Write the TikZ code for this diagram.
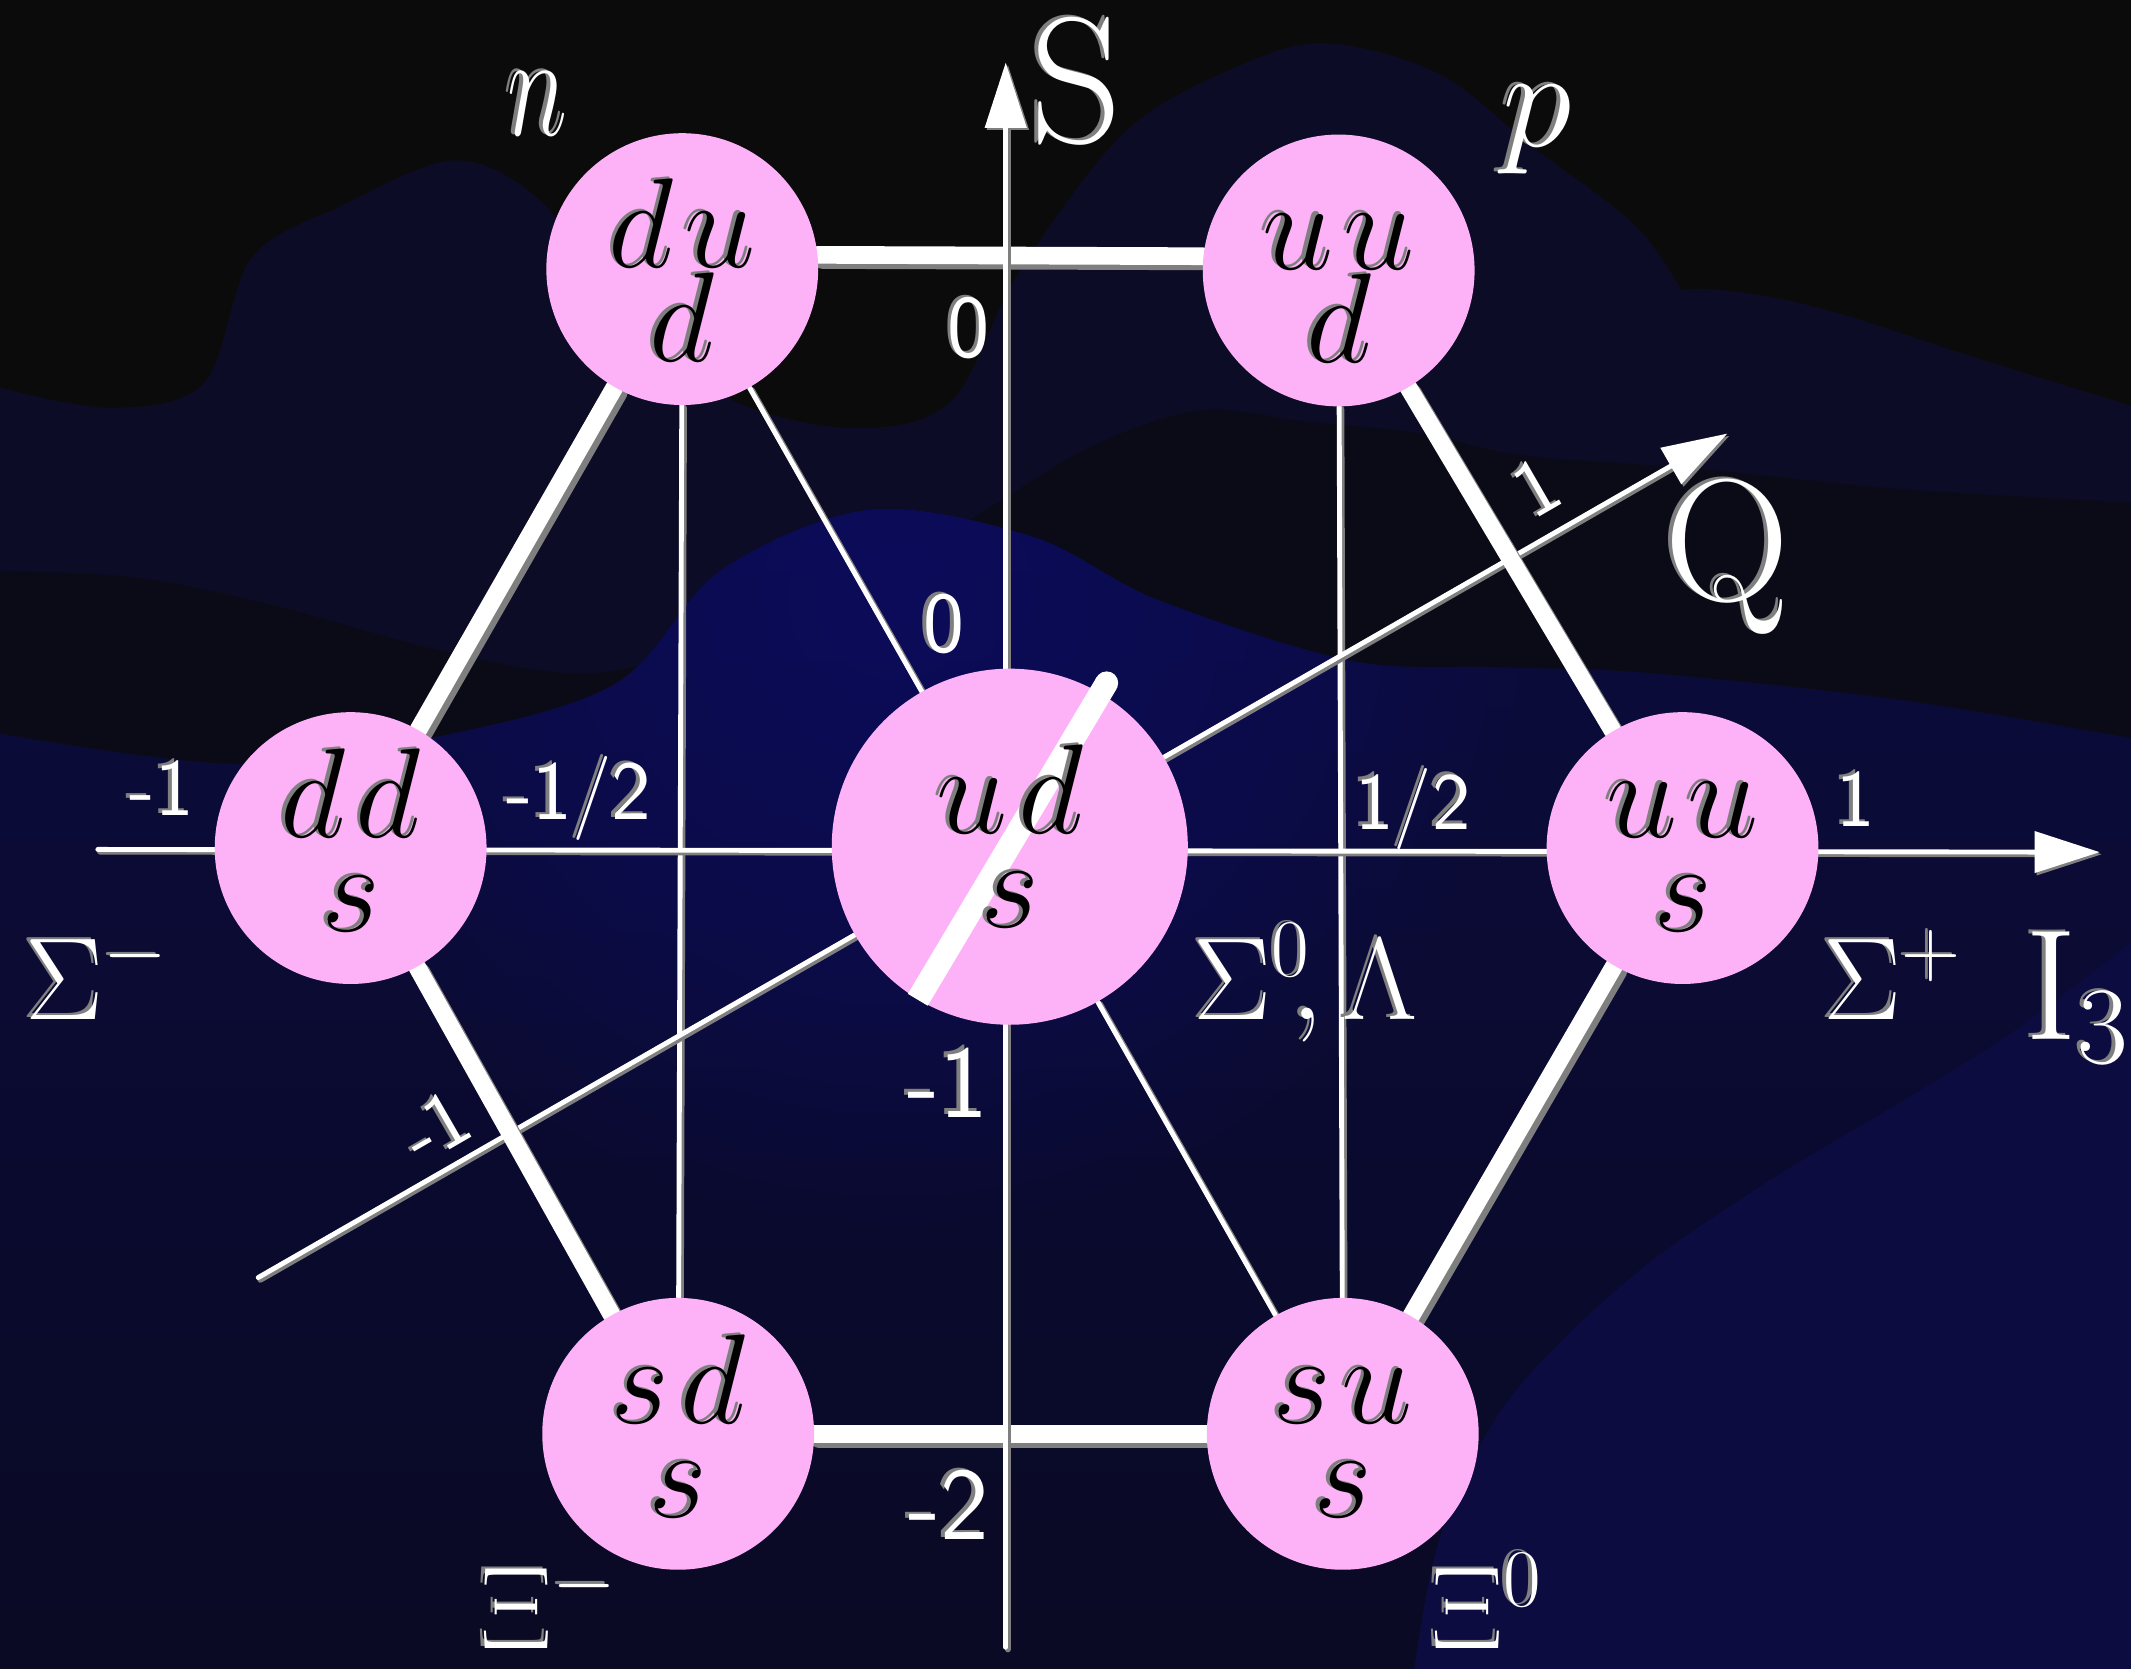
\RequirePackage{fix-cm}
\documentclass[tikz,border=0pt]{standalone}
\usepackage{graphicx}
\usetikzlibrary{arrows.meta,calc}
\definecolor{sky}{HTML}{0B0B0B}
\definecolor{mtA}{HTML}{0C0C26}
\definecolor{band}{HTML}{0B0B17}
\definecolor{mtCtop}{HTML}{0B0B3E}
\definecolor{mtCbot}{HTML}{0A0A24}
\definecolor{blobc}{HTML}{0C0C80}
\definecolor{rlight}{HTML}{0C0C40}
\definecolor{pinkc}{HTML}{FDB2F8}
\definecolor{shd}{HTML}{7F7F7F}
\pgfdeclarelayer{bg}
\pgfdeclarelayer{lines}
\pgfsetlayers{bg,lines,main}
\newcommand\shad[1]{\leavevmode\rlap{\kern-1.4pt\raisebox{0.8pt}{\color{shd}#1}}#1}
% quark content: second line d
\newcommand\qkd[2]{\shad{$\vphantom{d}#1$}\\\shad{$\vphantom{d}#2$}}
% quark content: second line s
\newcommand\qks[2]{\shad{$\vphantom{d}#1$}\\\shad{$\vphantom{d}#2$}\rule[-6.5pt]{0pt}{6.5pt}}
\def\mthree{plot[smooth, tension=0.55] coordinates {(-5,539) (171,562) (322,542) (453,503) (530,420) (640,375) (760,395) (851,441) (993,486) (1104,491) (1211,495) (1398,515) (1573,544)} -- (1573,1233) -- (-5,1233) -- cycle}
\begin{document}
\begin{tikzpicture}[x=0.5pt,y=-0.5pt,
  baryon/.style={circle, fill=pinkc, minimum size=100pt, inner sep=0pt, text=black, align=center, font=\fontsize{47}{33}\selectfont},
  sbaryon/.style={baryon, font=\fontsize{47}{27}\selectfont},
  quarktext/.style={inner sep=0pt, text=black, align=center, font=\fontsize{47}{27}\selectfont},
  thickw/.style={line width=6.5pt, white, line cap=round},
  thickg/.style={line width=6.5pt, shd, line cap=round, transform canvas={shift={(1.6pt,-1.9pt)}}},
  thinw/.style={line width=1.8pt, white, line cap=round},
  thing/.style={line width=2.2pt, shd, line cap=round, transform canvas={shift={(0.8pt,-0.8pt)}}},
  axisarrow/.style={-{Triangle[length=24pt,width=15pt]}},
  lab/.style={text=white, inner sep=0pt, anchor=base west},
  numlab/.style={lab, font=\sffamily\fontsize{30}{36}\selectfont},
  greeklab/.style={lab, font=\fontsize{43}{50}\selectfont}]
\useasboundingbox (0,0) rectangle (1568,1228);
% ---------- background ----------
\begin{pgfonlayer}{bg}
\fill[sky] (0,0) rectangle (1568,1228);
\fill[mtA] plot[smooth, tension=0.55] coordinates {(-5,284) (80,300) (150,282) (185,190) (250,152) (335,118) (400,150) (460,235) (540,295) (630,315) (700,295) (750,200) (830,95) (920,45) (980,32) (1060,55) (1130,110) (1207,170) (1260,250) (1320,330)} -- (1320,1233) -- (-5,1233) -- cycle;
\fill[mtA] plot[smooth, tension=0.55] coordinates {(1080,330) (1130,270) (1190,228) (1241,213) (1300,218) (1361,233) (1450,262) (1573,300)} -- (1573,1233) -- (1080,1233) -- cycle;
\fill[band] plot[smooth, tension=0.55] coordinates {(-5,420) (100,425) (200,445) (330,480) (440,495) (560,460) (700,390) (800,330) (883,302) (960,310) (1047,319) (1120,335) (1250,345) (1400,360) (1573,370)} -- (1573,1233) -- (-5,1233) -- cycle;
\begin{scope}
\clip \mthree;
\shade[top color=mtCtop, bottom color=mtCbot] (-5,370) rectangle (1573,1233);
\foreach \r in {20,40,...,460}
  \fill[blobc, fill opacity=0.035] (660,440) circle (\r);
\fill[rlight] plot[smooth, tension=0.55] coordinates {(1573,690) (1480,760) (1400,810) (1300,870) (1200,940) (1110,1030) (1060,1130) (1040,1233)} -- (1573,1233) -- cycle;
\end{scope}
\end{pgfonlayer}
% ---------- axis end points ----------
\coordinate (ileft) at (72,625);
\coordinate (iright) at (1545,627);
\coordinate (sbot) at (740,1212);
\coordinate (stop) at (740,46);
\coordinate (qbot) at (190,940);
\coordinate (qtop) at (1271,319);
% ---------- baryons ----------
\node[baryon] (n) at (502,198) {\qkd{d\mkern1.5mu u}{d}};
\node[baryon] (p) at (985,199) {\qkd{u\mkern1.5mu u}{d}};
\node[sbaryon] (dds) at (258,624) {\qks{d\mkern1.5mu d}{s}};
\node[baryon, minimum size=131pt] (uds) at (743,623) {};
\node[sbaryon] (uus) at (1238,624) {\qks{u\mkern1.5mu u}{s}};
\node[sbaryon] (sds) at (499,1055) {\qks{s\mkern1.5mu d}{s}};
\node[sbaryon] (sus) at (988,1055) {\qks{s\mkern1.5mu u}{s}};
% white stroke across the central baryon, under its letters
\draw[line width=8.5pt, white] ([shift={(-59.4:140)}]uds.center) -- (uds.239.4);
\fill[white] ([shift={(-59.4:140)}]uds.center) circle (8.5);
\node[quarktext] (udstext) at (743,621) {\qks{u\mkern1.5mu d}{s}};
% ---------- connectors ----------
\begin{pgfonlayer}{lines}
\foreach \a/\b in {n/sds, p/sus, n/uds, uds/sus}
  {\draw[thing] (\a) -- (\b); \draw[thinw] (\a) -- (\b);}
\draw[thing, axisarrow] (qbot) -- (qtop);
\draw[thinw, axisarrow] (qbot) -- (qtop);
\foreach \a/\b in {n.6/p.174, p/uus, uus/sus, sds/sus, dds/sds, dds/n}
  {\draw[thickg] (\a) -- (\b); \draw[thickw] (\a) -- (\b);}
\draw[thing, axisarrow] (sbot) -- (stop);
\draw[thinw, axisarrow] (sbot) -- (stop);
\draw[thing, axisarrow] (ileft) -- (iright);
\draw[thinw, axisarrow] (ileft) -- (iright);
\end{pgfonlayer}
% ---------- labels ----------
\node[lab, font=\fontsize{54}{60}\selectfont] (nlab) at (373,100) {\shad{\scalebox{0.7}[1]{$n$}}};
\node[lab, font=\fontsize{52}{60}\selectfont] (plab) at (1105,108) {\shad{$p$}};
\node[lab, font=\fontsize{66}{70}\selectfont] (slab) at (758,105) {\shad{S}};
\node[lab, font=\fontsize{64}{70}\selectfont] (qlab) at (1224,442) {\shad{Q}};
\node[lab, font=\fontsize{58}{70}\selectfont] (ilab) at (1490,765) {\shad{$\mathrm{I}_3$}};
\node[greeklab] (sm) at (18,750) {\shad{$\Sigma^{-}$}};
\node[greeklab] (s0) at (878,750) {\shad{$\Sigma^{0}\!,\Lambda$}};
\node[greeklab] (sp) at (1341,750) {\shad{$\Sigma^{+}$}};
\node[greeklab] (xm) at (353,1213) {\shad{$\Xi^{-}$}};
\node[greeklab] (x0) at (1053,1213) {\shad{$\Xi^{0}$}};
\node[numlab, font=\sffamily\fontsize{33}{36}\selectfont] (s0n) at (697,263) {\shad{0}};
\node[numlab, font=\sffamily\fontsize{32}{36}\selectfont] (q0n) at (679,480) {\shad{0}};
\node[numlab] (im1) at (95,600) {\shad{-1}};
\node[numlab, font=\sffamily\fontsize{31}{36}\selectfont] (imh) at (372,603) {\shad{-1/2}};
\node[numlab] (iph) at (997,610) {\shad{1/2}};
\node[numlab] (ip1) at (1351,608) {\shad{1}};
\node[numlab, font=\sffamily\fontsize{38}{40}\selectfont] (sm1) at (667,822) {\shad{-1}};
\node[numlab, font=\sffamily\fontsize{38}{40}\selectfont] (sm2) at (668,1133) {\shad{-2}};
\node[numlab, anchor=center, rotate=30] (qp1) at (1130,358) {\shad{1}};
\node[numlab, anchor=center, rotate=30] (qm1) at (320,828) {\shad{-1}};
\end{tikzpicture}
\end{document}
